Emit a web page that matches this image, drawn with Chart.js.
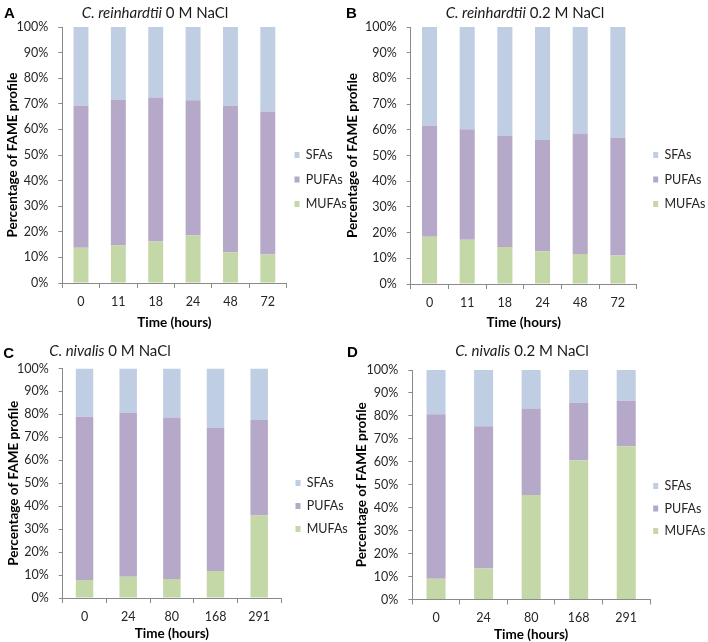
<!DOCTYPE html>
<html><head><meta charset="utf-8">
<script src="https://cdn.jsdelivr.net/npm/chart.js@4/dist/chart.umd.min.js"></script>
<style>
html,body{margin:0;padding:0;background:#fff;overflow:hidden;}
body{width:708px;height:642px;position:relative;font-family:Lato,sans-serif;}
canvas{position:absolute;}
.ttl{position:absolute;transform:translate(-50%,-50%);font-family:Lato,sans-serif;font-size:15px;color:#1a1a1a;white-space:nowrap;line-height:1;}
.lt{position:absolute;transform:translate(-50%,-50%);font-family:"Liberation Sans",Arial,sans-serif;font-weight:bold;font-size:15px;color:#000;line-height:1;}
</style></head><body>
<canvas id="cA" width="380" height="340" style="left:0;top:0"></canvas>
<canvas id="cB" width="400" height="340" style="left:340px;top:0"></canvas>
<canvas id="cC" width="380" height="312" style="left:0;top:330px"></canvas>
<canvas id="cD" width="400" height="312" style="left:340px;top:330px"></canvas>
<div class="lt" style="left:9.5px;top:11.5px">A</div>
<div class="lt" style="left:351.5px;top:11.5px">B</div>
<div class="lt" style="left:8.7px;top:352px">C</div>
<div class="lt" style="left:352.5px;top:351px">D</div>
<div class="ttl" style="left:155px;top:12px"><i>C. reinhardtii</i> 0 M NaCl</div>
<div class="ttl" style="left:525px;top:12px"><i>C. reinhardtii</i> 0.2 M NaCl</div>
<div class="ttl" style="left:110px;top:350px"><i>C. nivalis</i> 0 M NaCl</div>
<div class="ttl" style="left:522px;top:350px"><i>C. nivalis</i> 0.2 M NaCl</div>
<script>
// ---- data ----
const timesReinhardtii = ['0','11','18','24','48','72'];
const timesNivalis = ['0','24','80','168','291'];
const seriesNames = ['MUFAs','PUFAs','SFAs'];
const xTitle = 'Time (hours)';
const yTitle = 'Percentage of FAME profile';

const A_MUFA = [13.8, 14.6, 16.2, 18.6, 12.0, 11.1];
const A_PUFA = [55.4, 57.0, 56.3, 52.8, 57.2, 55.9];
const A_SFA  = [30.8, 28.4, 27.5, 28.6, 30.8, 33.0];

const B_MUFA = [18.4, 17.2, 14.4, 12.7, 11.7, 11.1];
const B_PUFA = [43.2, 43.0, 43.4, 43.4, 46.9, 45.8];
const B_SFA  = [38.4, 39.8, 42.2, 43.9, 41.4, 43.1];

const C_MUFA = [7.8, 9.3, 8.3, 11.8, 36.0];
const C_PUFA = [71.2, 71.3, 70.4, 62.4, 41.6];
const C_SFA  = [21.0, 19.4, 21.3, 25.8, 22.4];

const D_MUFA = [9.0, 13.5, 45.5, 60.7, 66.8];
const D_PUFA = [71.7, 62.0, 37.7, 24.9, 19.8];
const D_SFA  = [19.3, 24.5, 16.8, 14.4, 13.4];

// ---- styles ----
const COL_MUFA = '#C4D7A6';
const COL_PUFA = '#B6A8C9';
const COL_SFA  = '#C0CEE3';
const AXIS = '#8a8a8a';
const TXT = '#262626';
const FS = 12.5;
const TITLE_FS = 13.5;

Chart.defaults.font.family = 'Lato';

const legendNudge = {
  id: 'legendNudge',
  afterLayout(chart, args, o) {
    const lg = chart.legend;
    if (!lg || !lg.columnSizes || !lg.columnSizes.length) return;
    const p = o.pad, fs = o.fs;
    const curBox = lg.left + p;
    const cursorY = (lg.top + p + lg.bottom - lg.columnSizes[0].height) / 2;
    const dx = o.boxX - curBox;
    const dy = o.firstY - (cursorY + fs / 2);
    lg.left += dx; lg.right += dx; lg.top += dy; lg.bottom += dy;
  }
};

function build(id, labels, mufa, pufa, sfa, L) {
  const cfg = {
    type: 'bar',
    data: {
      labels: labels,
      datasets: [
        {label: seriesNames[0], data: mufa, backgroundColor: COL_MUFA, borderWidth: 0},
        {label: seriesNames[1], data: pufa, backgroundColor: COL_PUFA, borderWidth: 0},
        {label: seriesNames[2], data: sfa, backgroundColor: COL_SFA, borderWidth: 0}
      ]
    },
    options: {
      responsive: false, animation: false, devicePixelRatio: 1,
      datasets: {bar: {barPercentage: 0.4, categoryPercentage: 1}},
      layout: {padding: {top: L.plotT, left: 0, right: 0, bottom: 0}},
      scales: {
        x: {
          stacked: true,
          grid: {display: true, drawOnChartArea: false, drawTicks: true, tickLength: 5, color: AXIS, offset: true},
          border: {display: true, color: AXIS, width: 1},
          ticks: {font: {size: FS}, color: TXT, padding: 6, maxRotation: 0, autoSkip: false},
          title: {display: true, text: xTitle, color: '#000', font: {size: TITLE_FS, weight: 'bold'},
                  padding: {top: 0, bottom: L.H - TITLE_FS * 0.6 - L.xTitleY}},
          afterFit(s) { s.height = L.H - L.plotB; }
        },
        y: {
          stacked: true, min: 0, max: 100,
          grid: {display: true, drawOnChartArea: false, drawTicks: true, tickLength: 4, color: AXIS},
          border: {display: true, color: AXIS, width: 1},
          ticks: {stepSize: 10, font: {size: FS}, color: TXT, padding: 10, callback: v => v + '%'},
          title: {display: true, text: yTitle, color: '#000', font: {size: TITLE_FS, weight: 'bold'},
                  padding: {top: L.yTitleX - TITLE_FS * 0.6, bottom: 0}},
          afterFit(s) { s.width = L.plotL; }
        }
      },
      plugins: {
        legend: {position: 'right', reverse: true,
          labels: {boxWidth: 5, boxHeight: 6, padding: L.legPad, font: {size: FS}, color: TXT}},
        legendNudge: {boxX: L.legBoxX, firstY: L.legFirstY, pad: L.legPad, fs: FS},
        tooltip: {enabled: false}
      }
    },
    plugins: [legendNudge]
  };
  const ch = new Chart(document.getElementById(id), cfg);
  const dr = ch.chartArea.right - L.plotR;
  cfg.options.layout.padding.right = dr;
  ch.update();
  return ch;
}

build('cA', timesReinhardtii, A_MUFA, A_PUFA, A_SFA,
  {H: 340, plotL: 62.3, plotR: 286.5, plotT: 27, plotB: 283, xTitleY: 323, yTitleX: 13, legBoxX: 294.5, legFirstY: 155, legPad: 12});
build('cB', timesReinhardtii, B_MUFA, B_PUFA, B_SFA,
  {H: 340, plotL: 70.7, plotR: 296.7, plotT: 27, plotB: 284, xTitleY: 323, yTitleX: 12.5, legBoxX: 313.2, legFirstY: 155, legPad: 12});
build('cC', timesNivalis, C_MUFA, C_PUFA, C_SFA,
  {H: 312, plotL: 62.7, plotR: 281, plotT: 38.5, plotB: 268, xTitleY: 303.3, yTitleX: 14, legBoxX: 295.5, legFirstY: 153, legPad: 10.5});
build('cD', timesNivalis, D_MUFA, D_PUFA, D_SFA,
  {H: 312, plotL: 72.3, plotR: 310, plotT: 40, plotB: 269.5, xTitleY: 305, yTitleX: 21.5, legBoxX: 313.2, legFirstY: 156, legPad: 10});
</script>
</body></html>
